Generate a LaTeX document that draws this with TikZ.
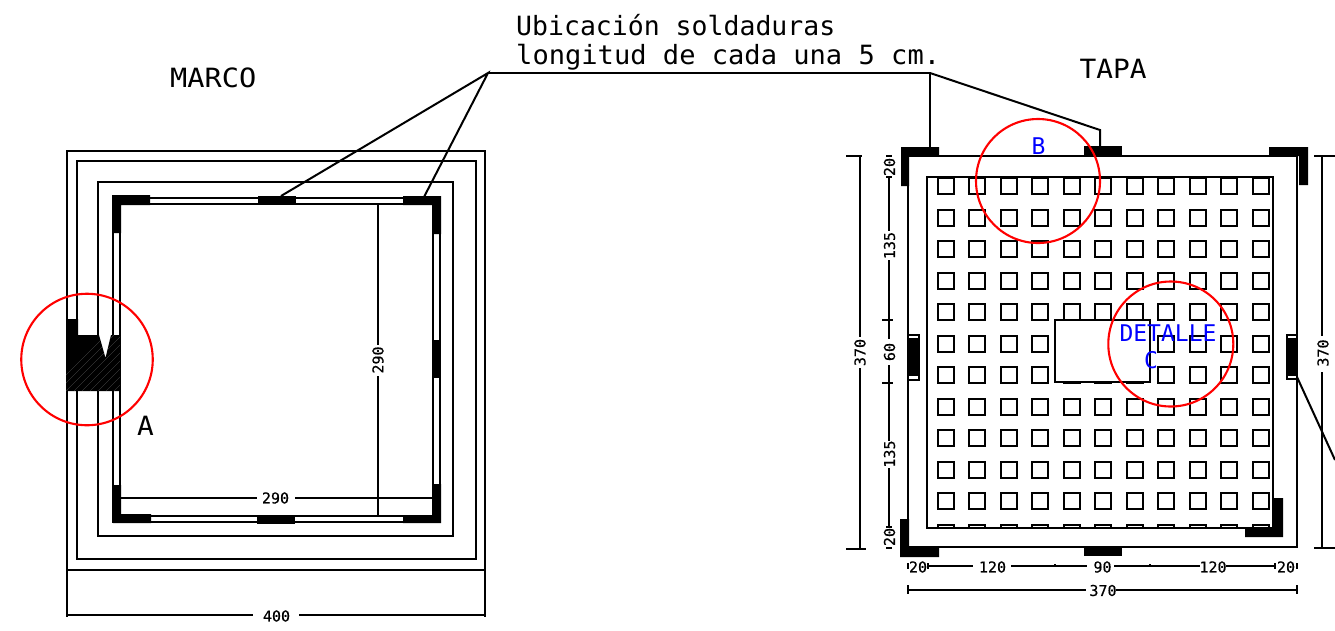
\documentclass[tikz,border=0pt]{standalone}
\usepackage{fontspec}
\newfontfamily\cadfont{DejaVu Sans Mono}
\newfontfamily\dimfont[FakeBold=0.4]{DejaVu Sans Mono}
\tikzset{
  ln/.style={line width=2pt,black},
  thin ln/.style={line width=2pt,black},
  solid black/.style={fill=black,draw=none},
  red ring/.style={draw=red,line width=2.1pt},
  big text/.style={inner sep=0pt,anchor=base west,font=\cadfont\fontsize{26.5}{26.5}\selectfont},
  dim text/.style={inner sep=0pt,font=\dimfont\fontsize{15}{15}\selectfont\addfontfeature{FakeBold=0.4}},
  blue text/.style={inner sep=0pt,text=blue,font=\cadfont\fontsize{23}{23}\selectfont},
  hole/.style={line width=2pt,black},
}
\begin{document}
\begin{tikzpicture}[x=1pt,y=-1pt]
\useasboundingbox (0,0) rectangle (1335,630);
% ===== MARCO =====
\draw[ln] (67,151) rectangle (485,570);
\draw[ln] (77,161) rectangle (476,559);
\draw[ln] (98,182) rectangle (453,536);
\draw[ln] (113,198) rectangle (440,522);
\draw[thin ln] (120,204) rectangle (433,516);
% black welds
\fill[solid black] (112,195) -- (150,195) -- (150,205) -- (121,205) -- (121,233) -- (112,233) -- cycle;
\fill[solid black] (403,196) -- (441,196) -- (441,234) -- (432,234) -- (432,205) -- (403,205) -- cycle;
\fill[solid black] (258,196) rectangle (296,205);
\fill[solid black] (113,485) -- (121,485) -- (121,514) -- (151,514) -- (151,523) -- (113,523) -- cycle;
\fill[solid black] (432,484) -- (441,484) -- (441,523) -- (403,523) -- (403,515) -- (432,515) -- cycle;
\fill[solid black] (257,515) rectangle (295,524);
\fill[solid black] (432,340) rectangle (441,378);
% hatched section
\fill[solid black] (66,319) -- (78,319) -- (78,335) -- (99,335) -- (105.5,358) -- (111,335) -- (120,335) -- (120,391) -- (66,391) -- cycle;
\begin{scope}
\clip (66,319) -- (78,319) -- (78,335) -- (99,335) -- (105.5,358) -- (111,335) -- (120,335) -- (120,391) -- (66,391) -- cycle;
\foreach \k in {0,8,...,136}
  \draw[line width=0.3pt,black!65] (50+\k,391) -- (50+\k+72,319);
\end{scope}
% dimensions of the frame
\draw[thin ln] (378,204) -- (378,345);
\draw[thin ln] (378,376) -- (378,516);
\node[dim text,rotate=90] (d290v) at (378,360) {290};
\draw[thin ln] (121,498) -- (257,498);
\draw[thin ln] (295,498) -- (432,498);
\node[dim text] (d290h) at (275.5,498) {290};
\draw[thin ln] (67,570) -- (67,617);
\draw[thin ln] (485,570) -- (485,617);
\draw[thin ln] (66,615) -- (253,615);
\draw[thin ln] (299,615) -- (486,615);
\node[dim text] (d400) at (276.5,616) {400};
% titles
\node[big text,xscale=1.08] (marco) at (170,87) {MARCO};
\node[big text,xscale=1.05] (letA) at (137,435) {A};
\node[red ring,circle,minimum size=131.5pt,inner sep=0pt] (ringA) at (87,359.5) {};
% ===== TAPA =====
\foreach \r in {0,...,10}
  \foreach \c in {0,...,10}
    \draw[hole] ({round(937.7+31.5*\c)},{round(178+31.5*\r)}) rectangle ++(16,16);
\begin{scope}
\clip (920,510) rectangle (1280,528);
\foreach \c in {0,...,10}
  \draw[hole] ({round(937.7+31.5*\c)},525) rectangle ++(16,16);
\end{scope}
\draw[ln] (927,177) rectangle (1273,528);
\draw[ln,fill=white] (1055,320) rectangle (1150,382);
\draw[ln] (908,156) rectangle (1297,547);
% welds
\fill[solid black] (901,147) -- (939,147) -- (939,156) -- (909,156) -- (909,186) -- (901,186) -- cycle;
\fill[solid black] (1269,147) -- (1308,147) -- (1308,185) -- (1299,185) -- (1299,156) -- (1269,156) -- cycle;
\fill[solid black] (1084,146) rectangle (1122,155);
\fill[solid black] (900,519) -- (909,519) -- (909,547) -- (939,547) -- (939,557) -- (900,557) -- cycle;
\fill[solid black] (1274,498) -- (1283,498) -- (1283,537) -- (1245,537) -- (1245,528) -- (1274,528) -- cycle;
\fill[solid black] (1084,547) rectangle (1122,556);
\draw[thin ln] (908,335) rectangle (919,380);
\fill[solid black] (908,338) rectangle (919,376);
\draw[thin ln] (1287,335) rectangle (1297,379);
\fill[solid black] (1287,338) rectangle (1297,376);
% outer dimensions
\draw[thin ln] (846,156) -- (862,156);
\draw[thin ln] (846,549) -- (866,549);
\draw[thin ln] (860,156) -- (860,337);
\draw[thin ln] (860,368) -- (860,549);
\node[dim text,rotate=90] (d370l) at (860,352.5) {370};
\draw[thin ln] (1314,156) -- (1335,156);
\draw[thin ln] (1314,548) -- (1335,548);
\draw[thin ln] (1322,156) -- (1322,336);
\draw[thin ln] (1322,372) -- (1322,548);
\node[dim text,rotate=90] (d370r) at (1323,353) {370};
% inner vertical dimensions
\draw[thin ln] (889,177) -- (889,231);
\draw[thin ln] (889,260) -- (889,339);
\draw[thin ln] (889,365) -- (889,441);
\draw[thin ln] (889,468) -- (889,526);
\draw[thin ln] (882,320) -- (893,320);
\draw[thin ln] (882,383) -- (893,383);
\draw[thin ln] (886,177) -- (892,177);
\draw[thin ln] (886,156) -- (892,156);
\draw[thin ln] (886,527) -- (892,527);
\draw[thin ln] (886,548) -- (892,548);
\node[dim text,rotate=90] (v20a) at (889.5,167) {20};
\node[dim text,rotate=90] (v135a) at (889.5,245.5) {135};
\node[dim text,rotate=90] (v60) at (889.5,352) {60};
\node[dim text,rotate=90] (v135b) at (889.5,454) {135};
\node[dim text,rotate=90] (v20b) at (889.5,537) {20};
% inner horizontal dimensions
\draw[thin ln] (928,566) -- (973,566);
\draw[thin ln] (1011,566) -- (1087,566);
\draw[thin ln] (1114,566) -- (1200,566);
\draw[thin ln] (1226,566) -- (1275,566);
\draw[thin ln] (908,563) -- (908,569);
\draw[thin ln] (928,563) -- (928,569);
\draw[thin ln] (1275,563) -- (1275,569);
\draw[thin ln] (1297,563) -- (1297,569);
\draw[line width=1.2pt] (1055,564) -- (1055,566);
\draw[line width=1.2pt] (1150,564) -- (1150,566);
\node[dim text] (h20a) at (918,567) {20};
\node[dim text] (h120a) at (992.5,567) {120};
\node[dim text] (h90) at (1102.5,567) {90};
\node[dim text] (h120b) at (1213,567) {120};
\node[dim text] (h20b) at (1286,567) {20};
\draw[thin ln] (908,590) -- (1086,590);
\draw[thin ln] (1116,590) -- (1297,590);
\draw[thin ln] (908,585) -- (908,594);
\draw[thin ln] (1297,585) -- (1297,594);
\node[dim text] (h370) at (1103,590.5) {370};
% leaders
\coordinate (hub) at (488,73);
\coordinate (hubr) at (930,73);
\coordinate (wa) at (281,196);
\coordinate (wb) at (424,197);
\coordinate (wc) at (930,148);
\coordinate (kn) at (1100,130);
\coordinate (wd) at (1100,146);
\coordinate (we) at (1297,377);
\coordinate (ef) at (1335,460);
\draw[ln] (wa) -- (hub) -- (wb);
\draw[ln] (hub) -- (hubr) -- (wc);
\draw[ln] (hubr) -- (kn) -- (wd);
\draw[ln] (we) -- (ef);
% texts
\node[big text] (tub) at (516,35) {Ubicación soldaduras};
\node[big text,xscale=1.022] (tlo) at (516,64) {longitud de cada una 5 cm.};
\node[big text,xscale=1.05] (tapa) at (1079.5,78) {TAPA};
% rings and blue labels
\node[red ring,circle,minimum size=124pt,inner sep=0pt] (ringB) at (1038,181) {};
\node[red ring,circle,minimum size=125pt,inner sep=0pt] (ringC) at (1170.8,344) {};
\node[blue text] (lB) at (1038.5,146) {B};
\node[blue text] (lD) at (1168,333) {DETALLE};
\node[blue text] (lC) at (1151,360) {C};
\end{tikzpicture}
\end{document}
